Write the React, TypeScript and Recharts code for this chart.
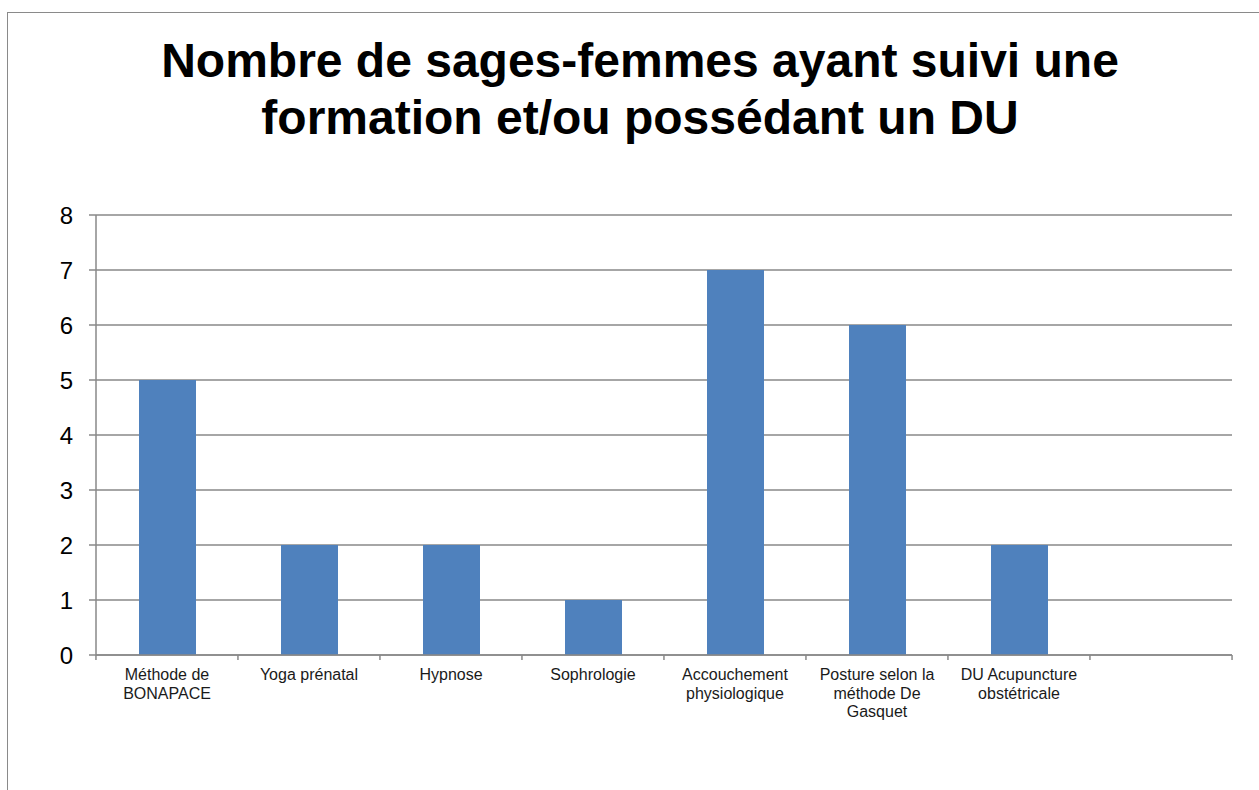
import { BarChart, Bar, XAxis, YAxis, CartesianGrid } from "recharts";

const categories = [
  "Méthode de\nBONAPACE",
  "Yoga prénatal",
  "Hypnose",
  "Sophrologie",
  "Accouchement\nphysiologique",
  "Posture selon la\nméthode De\nGasquet",
  "DU Acupuncture\nobstétricale",
  "",
];
const values = [5, 2, 2, 1, 7, 6, 2, null];
const yTicks = [0, 1, 2, 3, 4, 5, 6, 7, 8];
const titleLines = [
  "Nombre de sages-femmes ayant suivi une",
  "formation et/ou possédant un DU",
];

const data = categories.map((name, i) => ({ name, value: values[i] }));

const FONT = "'Liberation Sans', Arial, sans-serif";
const GRID = "#898989";

const CategoryTick = (props: any) => {
  const { x, y, payload, index } = props;
  const half = 142.1 / 2;
  const lines = String(payload.value).split("\n");
  return (
    <g>
      <line x1={x - half} x2={x - half} y1={y - 8} y2={y - 3} stroke={GRID} strokeWidth={1.5} />
      {index === categories.length - 1 && (
        <line x1={x + half} x2={x + half} y1={y - 8} y2={y - 3} stroke={GRID} strokeWidth={1.5} />
      )}
      <text x={x} y={y + 17} textAnchor="middle" fontSize={16} fill="#1a1a1a" fontFamily={FONT}>
        {lines.map((l, i) => (
          <tspan key={i} x={x} dy={i === 0 ? 0 : 18.5}>
            {l}
          </tspan>
        ))}
      </text>
    </g>
  );
};

export default function App() {
  return (
    <div style={{ position: "absolute", left: 0, top: 0, width: 1259, height: 790, background: "#fff", overflow: "hidden" }}>
      <div
        style={{
          position: "absolute",
          left: 7,
          top: 12,
          width: 1300,
          height: 900,
          border: "1px solid #8a8a8a",
          boxSizing: "border-box",
        }}
      />
      <div
        style={{
          position: "absolute",
          left: 0,
          width: 1280,
          top: 32,
          textAlign: "center",
          fontFamily: FONT,
          fontWeight: "bold",
          fontSize: 48,
          lineHeight: "57px",
          color: "#000",
        }}
      >
        {titleLines.map((t) => (
          <div key={t}>{t}</div>
        ))}
      </div>
      <div style={{ position: "absolute", left: 0, top: 0 }}>
        <BarChart
          width={1259}
          height={790}
          data={data}
          margin={{ top: 215, right: 27, bottom: 55, left: 36 }}
          barSize={57}
        >
          <CartesianGrid vertical={false} stroke={GRID} strokeWidth={1.5} />
          <XAxis
            dataKey="name"
            interval={0}
            height={80}
            tickLine={false}
            axisLine={{ stroke: GRID, strokeWidth: 1.5 }}
            tick={<CategoryTick />}
          />
          <YAxis
            width={60}
            domain={[0, 8]}
            ticks={yTicks}
            interval={0}
            tickSize={7}
            tickMargin={16}
            tickLine={{ stroke: GRID, strokeWidth: 1.5 }}
            axisLine={{ stroke: GRID, strokeWidth: 1.5 }}
            tick={{ fill: "#000", fontSize: 24, fontFamily: FONT }}
          />
          <Bar dataKey="value" fill="#4F81BD" isAnimationActive={false} />
        </BarChart>
      </div>
    </div>
  );
}
